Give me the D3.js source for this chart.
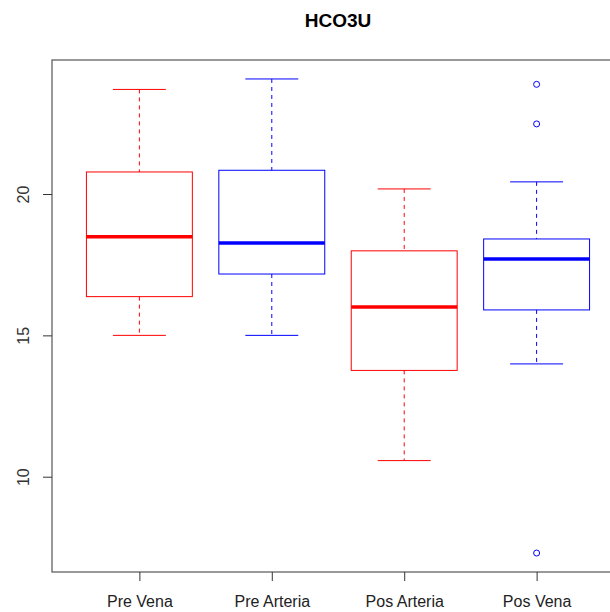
<!DOCTYPE html>
<html>
<head>
<meta charset="utf-8">
<script src="https://cdn.jsdelivr.net/npm/d3@7"></script>
<style>
  html, body { margin: 0; padding: 0; background: #fff; }
  svg { display: block; font-family: "Liberation Sans", Arial, sans-serif; }
</style>
</head>
<body>
<svg id="chart" width="610" height="612"></svg>
<script>
// HCO3U by sampling site: five-number summaries plus outliers
const categories = ["Pre Vena", "Pre Arteria", "Pos Arteria", "Pos Vena"];
const lowerWhisker = [15.0, 15.0, 10.57, 13.99];
const q1 = [16.37, 17.17, 13.76, 15.90];
const median = [18.49, 18.27, 16.0, 17.70];
const q3 = [20.78, 20.84, 17.99, 18.41];
const upperWhisker = [23.70, 24.07, 20.18, 20.43];
const outliers = [[], [], [], [23.88, 22.48, 7.30]];
const boxColors = ["#ff0000", "#0000ff", "#ff0000", "#0000ff"];
const yTicks = [10, 15, 20];
const title = "HCO3U";

const svg = d3.select("#chart");
const plot = { left: 52, top: 60, right: 624, bottom: 572 };

// x: group index 1..n with R-style 4% padding around [0.5, n+0.5]
const n = categories.length;
const pad = n * 0.04;
const x = d3.scaleLinear()
  .domain([0.5 - pad, n + 0.5 + pad])
  .range([plot.left, plot.right]);

const allVals = lowerWhisker.concat(upperWhisker, outliers.flat());
const yMin = d3.min(allVals), yMax = d3.max(allVals);
const yPad = (yMax - yMin) * 0.04;
const y = d3.scaleLinear()
  .domain([yMin - yPad, yMax + yPad])
  .range([plot.bottom, plot.top]);

const boxHalf = 0.4, capHalf = 0.2;

const data = categories.map((c, i) => ({
  name: c, idx: i + 1,
  lo: lowerWhisker[i], q1: q1[i], med: median[i], q3: q3[i], hi: upperWhisker[i],
  out: outliers[i], color: boxColors[i]
}));

const g = svg.append("g");

const box = g.selectAll("g.box").data(data).join("g").attr("class", "box");

// whiskers (dashed)
box.append("line")
  .attr("x1", d => x(d.idx)).attr("x2", d => x(d.idx))
  .attr("y1", d => y(d.hi)).attr("y2", d => y(d.q3))
  .attr("stroke", d => d.color).attr("stroke-dasharray", "4,4");
box.append("line")
  .attr("x1", d => x(d.idx)).attr("x2", d => x(d.idx))
  .attr("y1", d => y(d.q1)).attr("y2", d => y(d.lo))
  .attr("stroke", d => d.color).attr("stroke-dasharray", "4,4");
// caps
box.append("line")
  .attr("x1", d => x(d.idx - capHalf)).attr("x2", d => x(d.idx + capHalf))
  .attr("y1", d => y(d.hi)).attr("y2", d => y(d.hi))
  .attr("stroke", d => d.color);
box.append("line")
  .attr("x1", d => x(d.idx - capHalf)).attr("x2", d => x(d.idx + capHalf))
  .attr("y1", d => y(d.lo)).attr("y2", d => y(d.lo))
  .attr("stroke", d => d.color);
// box
box.append("rect")
  .attr("x", d => x(d.idx - boxHalf))
  .attr("width", d => x(d.idx + boxHalf) - x(d.idx - boxHalf))
  .attr("y", d => y(d.q3))
  .attr("height", d => y(d.q1) - y(d.q3))
  .attr("fill", "none").attr("stroke", d => d.color);
// median
box.append("line")
  .attr("x1", d => x(d.idx - boxHalf)).attr("x2", d => x(d.idx + boxHalf))
  .attr("y1", d => y(d.med)).attr("y2", d => y(d.med))
  .attr("stroke", d => d.color).attr("stroke-width", 3.5);
// outliers
box.selectAll("circle").data(d => d.out.map(v => ({ v, idx: d.idx, color: d.color })))
  .join("circle")
  .attr("cx", d => x(d.idx)).attr("cy", d => y(d.v)).attr("r", 3)
  .attr("fill", "none").attr("stroke", d => d.color);

// frame
svg.append("rect")
  .attr("x", plot.left).attr("y", plot.top)
  .attr("width", plot.right - plot.left).attr("height", plot.bottom - plot.top)
  .attr("fill", "none").attr("stroke", "#555").attr("stroke-width", 1.2);

// y axis
const yAxis = svg.append("g")
  .attr("transform", `translate(${plot.left},0)`)
  .call(d3.axisLeft(y).tickValues(yTicks).tickSize(9).tickFormat(d3.format("d")));
yAxis.select(".domain").remove();
yAxis.selectAll(".tick line").attr("stroke", "#333");
yAxis.selectAll(".tick text")
  .attr("font-size", 16).attr("fill", "#333")
  .attr("x", 0).attr("dy", 0)
  .attr("text-anchor", "middle")
  .attr("transform", "translate(-29,0) rotate(-90) translate(0,6)");

// x axis
const xAxis = svg.append("g")
  .attr("transform", `translate(0,${plot.bottom})`)
  .call(d3.axisBottom(x).tickValues(data.map(d => d.idx)).tickSize(9)
    .tickFormat(i => categories[i - 1]));
xAxis.select(".domain").remove();
xAxis.selectAll(".tick line").attr("stroke", "#333");
xAxis.selectAll(".tick text")
  .attr("font-size", 16).attr("fill", "#222")
  .attr("y", 24).attr("dy", "0.71em");

// title
svg.append("text")
  .attr("x", (plot.left + plot.right) / 2).attr("y", 27)
  .attr("text-anchor", "middle")
  .attr("font-size", 19).attr("font-weight", "bold")
  .text(title);
</script>
</body>
</html>
